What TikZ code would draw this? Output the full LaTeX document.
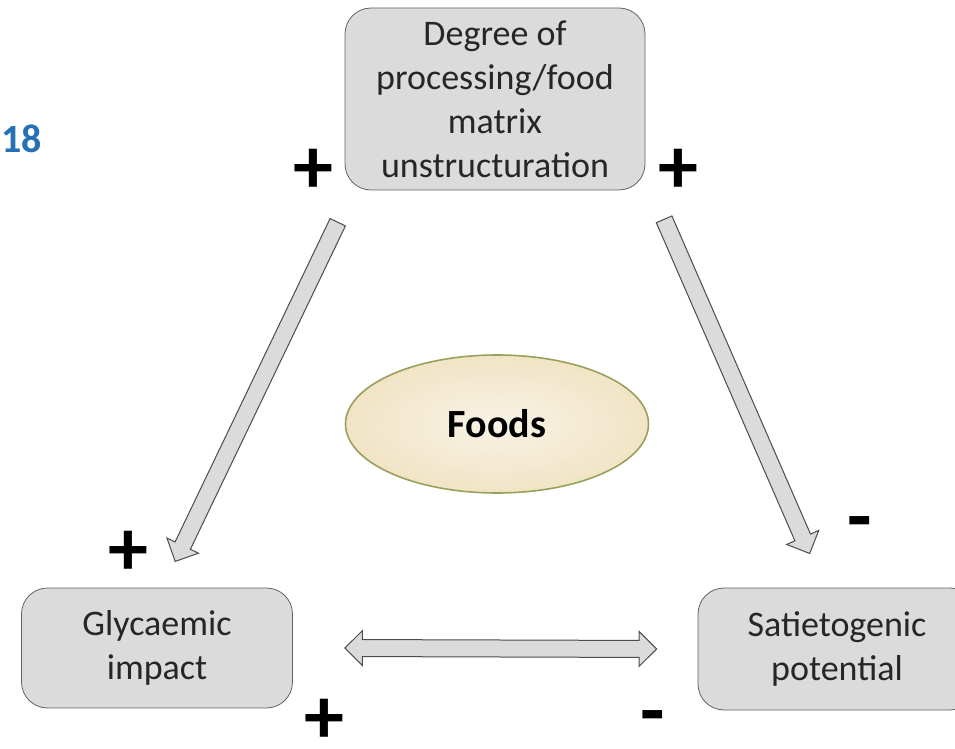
\documentclass[tikz,border=0pt]{standalone}
\usepackage{fontspec}
\setmainfont{Carlito}
\usepackage{xcolor}
\usepackage{tikz}
\usetikzlibrary{shapes,calc}

\definecolor{boxfill}{HTML}{DBDBDB}
\definecolor{boxline}{HTML}{626262}
\definecolor{foodfill}{HTML}{F1E4C6}
\definecolor{foodline}{HTML}{98A05A}
\definecolor{pageblue}{HTML}{2770B6}

\tikzstyle{box}=[
    rectangle,
    rounded corners=13pt,
    draw=boxline,
    fill=boxfill,
    text centered,
    align=center,
    text=black!85,
    font=\fontsize{18}{22}\selectfont]
\tikzstyle{sign}=[
    inner sep=0pt,
    font=\fontsize{40}{40}\selectfont\bfseries]
\tikzstyle{fat arrow}=[
    draw=black!70,
    fill=boxfill,
    line width=0.5pt,
    inner xsep=0pt,
    inner ysep=4pt,
    single arrow head extend=4.5pt,
    double arrow head extend=4.5pt]

\newcommand{\fatarrow}[3][single arrow]{%
    \path let \p1=($(#3)-(#2)$), \n1={atan2(\y1,\x1)}, \n2={veclen(\x1,\y1)} in
        node[fat arrow, #1, minimum height=\n2, rotate=\n1] at ($(#2)!0.5!(#3)$) {};}

\begin{document}
\begin{tikzpicture}[x=0.5pt, y=-0.5pt]
    \clip (0,0) rectangle (955,749);

    \node[box, minimum width=150pt, minimum height=91pt] (degree) at (495,99)
        {Degree of\\processing/food\\matrix\\unstructuration};
    \node[box, minimum width=135.5pt, minimum height=60pt] (glycaemic) at (157,648)
        {Glycaemic\\impact};
    \node[box, minimum width=139pt, minimum height=61pt] (satiety) at (837,649)
        {Satietogenic\\potential};
    \node[ellipse, draw=foodline, line width=0.8pt,
        inner color=foodfill!45!white, outer color=foodfill,
        minimum width=151.5pt, minimum height=69pt,
        font=\fontsize{20}{24}\selectfont\bfseries] (foods) at (497,424) {Foods};

    \node[anchor=west, inner sep=0pt, text=pageblue, font=\fontsize{20}{20}\selectfont\bfseries]
        (page) at (1,139) {18};

    % signs
    \node[sign] (degreeleft) at (313,171) {+};
    \node[sign] (degreeright) at (678,171) {+};
    \node[sign] (glycaemictop) at (128,553) {+};
    \node[sign] (glycaemicbottom) at (324,721) {+};
    \node[sign] (satietytop) at (860,530) {-};
    \node[sign] (satietybottom) at (653,724) {-};

    % arrows
    \coordinate (ltail) at ($(degree.south west)+(-5,28)$);
    \coordinate (ltip) at ($(glycaemic.north)+(20,-30)$);
    \coordinate (rtail) at ($(degree.south east)+(17,25)$);
    \coordinate (rtip) at ($(satiety.north)+(-29,-38)$);
    \coordinate (gtip) at ($(glycaemic.east)+(52,0)$);
    \coordinate (stip) at ($(satiety.west)+(-41,0)$);

    \fatarrow{ltail}{ltip}
    \fatarrow{rtail}{rtip}
    \fatarrow[double arrow]{gtip}{stip}
\end{tikzpicture}
\end{document}
